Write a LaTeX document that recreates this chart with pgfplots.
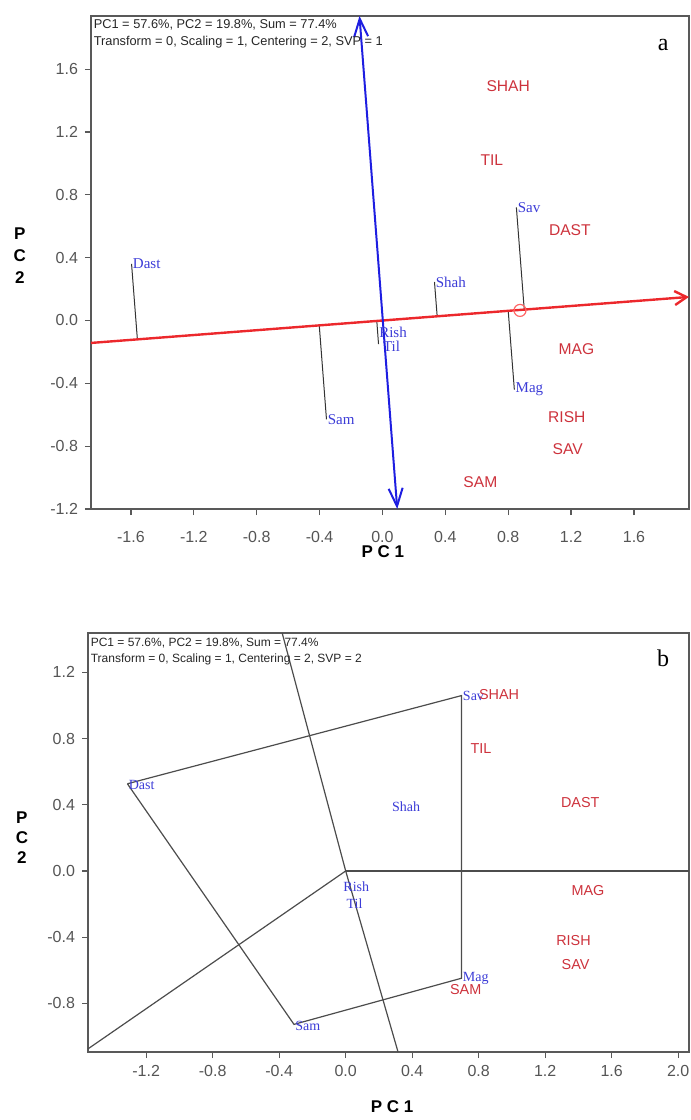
\documentclass[border=0pt]{standalone}
\usepackage{fontspec}
\setmainfont{Liberation Sans}
\newfontfamily\timesf{Liberation Serif}
\usepackage{pgfplots}
\pgfplotsset{compat=1.18}
\usetikzlibrary{arrows.meta}

\definecolor{pcred}{RGB}{236,40,44}
\definecolor{pcblue}{RGB}{30,30,225}
\definecolor{envred}{RGB}{205,50,60}
\definecolor{genblue}{RGB}{60,60,215}
\definecolor{tickgray}{RGB}{85,85,85}

\pgfplotsset{
  gge/.style={
    scale only axis, clip=false,
    axis line style={black!65, line width=0.6pt},
    tick align=outside, tick pos=left,
    major tick length=3pt,
    tick style={black!65, line width=0.6pt},
    tick label style={font=\fontsize{8}{9}\selectfont, text=tickgray},
    /pgf/number format/assume math mode=true,
    /pgf/number format/fixed, /pgf/number format/fixed zerofill,
    /pgf/number format/precision=1,
    xlabel style={font=\bfseries\fontsize{8.5}{10}\selectfont, anchor=center},
    ylabel style={rotate=-90, align=center, anchor=center},
  },
  genlab/.style={draw=none, mark=none, nodes near coords, point meta=explicit symbolic,
    nodes near coords style={anchor=west, inner sep=0.5pt, text=genblue,
      font=\timesf\fontsize{#1}{#1}\selectfont}},
  envlab/.style={draw=none, mark=none, nodes near coords, point meta=explicit symbolic,
    nodes near coords style={anchor=center, inner sep=0pt, text=envred,
      font=\fontsize{#1}{#1}\selectfont}},
  proj/.style={black!80, line width=0.5pt},
  poly/.style={black!70, line width=0.6pt},
}

\begin{document}
\begin{tikzpicture}
\useasboundingbox (0,0) rectangle (345.5pt,-560pt);

% ---- panel a: SVP = 1
\begin{axis}[gge,
  at={(45.5pt,-254.5pt)}, anchor=south west,
  width=299pt, height=246.5pt,
  xmin=-1.854, xmax=1.950, ymin=-1.2, ymax=1.938,
  xtick={-1.6,-1.2,-0.8,-0.4,0,0.4,0.8,1.2,1.6},
  ytick={-1.2,-0.8,-0.4,0,0.4,0.8,1.2,1.6},
  xticklabel style={yshift=-4.5pt},
  xlabel={P C 1}, ylabel={P\\C\\2},
  xlabel style={at={(axis description cs:0.488,-0.087)}},
  ylabel style={at={(axis description cs:-0.119,0.513)},
    font=\bfseries\fontsize{8.5}{11}\selectfont},
]
% projections of the genotypes onto the average axis
\addplot[proj] coordinates {(-1.596,0.36) (-1.559,-0.120)};
\addplot[proj] coordinates {(-0.356,-0.63) (-0.402,-0.031)};
\addplot[proj] coordinates {(0.331,0.245) (0.348,0.027)};
\addplot[proj] coordinates {(0.852,0.72) (0.902,0.069)};
\addplot[proj] coordinates {(0.839,-0.44) (0.800,0.062)};
\addplot[proj] coordinates {(-0.025,-0.15) (-0.036,-0.003)};
% average axis and its perpendicular
\addplot[pcred, line width=1.2pt, -{Straight Barb[length=6pt,width=7pt]}]
  coordinates {(-1.854,-0.143) (1.950,0.150)};
\addplot[pcblue, line width=1pt,
  {Straight Barb[length=9pt,width=7pt]}-{Straight Barb[length=9pt,width=7pt]}]
  coordinates {(-0.146,1.938) (0.094,-1.2)};
\addplot[only marks, mark=o, mark size=3pt, red!60, mark options={line width=0.6pt}]
  coordinates {(0.875,0.064)};
% genotypes
\addplot[genlab=7.5] table[meta=label] {
x y label
-1.596 0.36 Dast
0.852 0.72 Sav
0.331 0.245 Shah
0.839 -0.44 Mag
-0.356 -0.63 Sam
-0.029 -0.074 Rish
-0.005 -0.163 Til
};
% environments
\addplot[envlab=7.8] table[meta=label] {
x y label
0.800 1.490 SHAH
0.696 1.023 TIL
1.192 0.572 DAST
1.234 -0.184 MAG
1.173 -0.617 RISH
1.178 -0.820 SAV
0.623 -1.032 SAM
};
\node[anchor=west, inner sep=0pt, font=\fontsize{6.4}{7}\selectfont, text=black!85]
  at (axis description cs:0.004,0.982) {PC1 = 57.6\%, PC2 = 19.8\%, Sum = 77.4\%};
\node[anchor=west, inner sep=0pt, font=\fontsize{6.4}{7}\selectfont, text=black!85]
  at (axis description cs:0.004,0.947) {Transform = 0, Scaling = 1, Centering = 2, SVP = 1};
\node[font=\timesf\fontsize{12}{12}\selectfont] at (axis description cs:0.957,0.941) {a};
\end{axis}

% ---- panel b: SVP = 2
\begin{axis}[gge,
  at={(44pt,-526pt)}, anchor=south west,
  width=300.5pt, height=209.5pt,
  xmin=-1.55, xmax=2.065, ymin=-1.094, ymax=1.438,
  xtick={-1.2,-0.8,-0.4,0,0.4,0.8,1.2,1.6,2.0},
  ytick={-0.8,-0.4,0,0.4,0.8,1.2},
  xlabel={P C 1}, ylabel={P\\C\\2},
  xlabel style={at={(axis description cs:0.506,-0.131)}},
  ylabel style={at={(axis description cs:-0.110,0.511)},
    font=\bfseries\fontsize{8.5}{10}\selectfont},
]
% polygon of the extreme genotypes
\addplot[poly] coordinates {(-1.313,0.527) (0.697,1.06) (0.697,-0.648) (-0.311,-0.927) (-1.313,0.527)};
% rays from the origin, perpendicular to the sides
\addplot[poly] coordinates {(0,0) (2.065,0)};
\addplot[poly] coordinates {(0,0) (-0.382,1.438)};
\addplot[poly] coordinates {(0,0) (0.315,-1.094)};
\addplot[poly] coordinates {(0,0) (-1.55,-1.075)};
% genotypes
\addplot[genlab=7] table[meta=label] {
x y label
-1.313 0.52 Dast
0.697 1.06 Sav
0.271 0.388 Shah
-0.022 -0.095 Rish
-0.003 -0.195 Til
0.697 -0.648 Mag
-0.311 -0.935 Sam
};
% environments
\addplot[envlab=7.2] table[meta=label] {
x y label
0.923 1.067 SHAH
0.814 0.739 TIL
1.411 0.414 DAST
1.457 -0.119 MAG
1.370 -0.420 RISH
1.383 -0.567 SAV
0.722 -0.718 SAM
};
\node[anchor=west, inner sep=0pt, font=\fontsize{6}{7}\selectfont, text=black!85]
  at (axis description cs:0.004,0.977) {PC1 = 57.6\%, PC2 = 19.8\%, Sum = 77.4\%};
\node[anchor=west, inner sep=0pt, font=\fontsize{6}{7}\selectfont, text=black!85]
  at (axis description cs:0.004,0.938) {Transform = 0, Scaling = 1, Centering = 2, SVP = 2};
\node[font=\timesf\fontsize{12}{12}\selectfont] at (axis description cs:0.957,0.940) {b};
\end{axis}
\end{tikzpicture}
\end{document}
